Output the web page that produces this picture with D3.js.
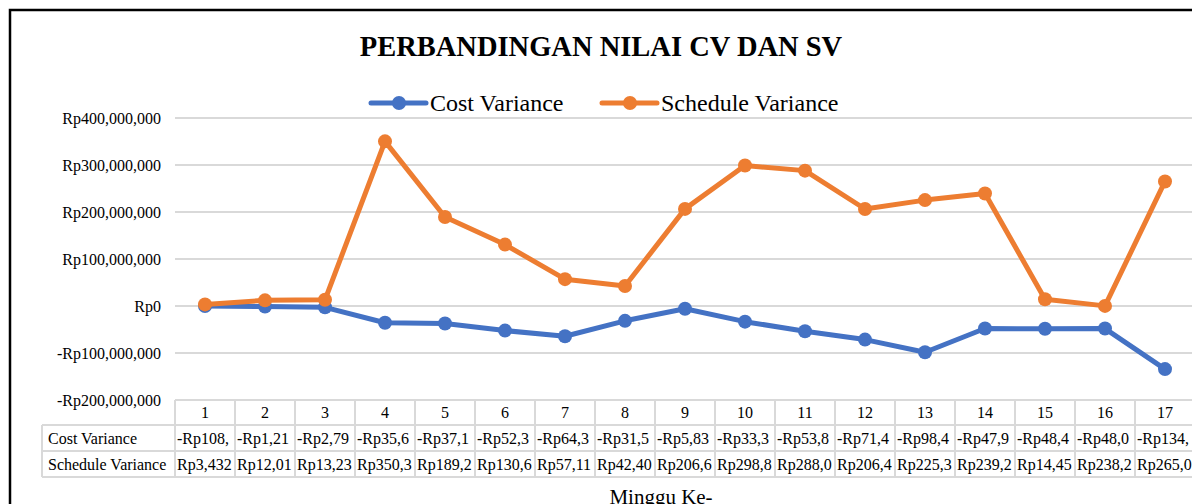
<!DOCTYPE html>
<html>
<head>
<meta charset="utf-8">
<script src="https://cdn.jsdelivr.net/npm/d3@7"></script>
<style>
  html, body { margin: 0; padding: 0; background: #fff; overflow: hidden; }
  svg text { font-family: "Times New Roman", "Liberation Serif", Times, "DejaVu Serif", serif; fill: #000; }
</style>
</head>
<body>
<div id="chart_div"></div>
<script>
// data kategori (minggu) dan nilai tiap seri
const weeks = ["1", "2", "3", "4", "5", "6", "7", "8", "9", "10", "11", "12", "13", "14", "15", "16", "17"]
const costVariance = [-108512, -1213450, -2795300, -35612400, -37145800, -52318900, -64327500, -31542100,
    -5836200, -33318700, -53842600, -71438900, -98415300, -47926400, -48435200, -48012700, -134268400]
const scheduleVariance = [3432150, 12014800, 13235600, 350318400, 189246700, 130652300, 57118900, 42405600,
    206638200, 298847100, 288015600, 206418300, 225316800, 239274500, 14458200, 238245, 265018700]
const yTicks = [-200000000, -100000000, 0, 100000000, 200000000, 300000000, 400000000]
const seriesNames = ["Cost Variance", "Schedule Variance"]
const seriesColors = ["#4472C4", "#ED7D31"]

const width = 1192
const height = 504

const svg = d3.select('#chart_div').append('svg')
    .attr('width', width)
    .attr('height', height)

// skala
const x = d3.scaleBand().domain(weeks).range([175, 1195])
const y = d3.scaleLinear().domain([-200000000, 400000000]).range([400, 118])

const rp = v => (v < 0 ? "-Rp" : "Rp") + d3.format(",")(Math.abs(v))

// garis grid
svg.append('g')
    .selectAll('line')
    .data(yTicks)
    .enter()
    .append('line')
    .attr('x1', 175)
    .attr('x2', width)
    .attr('y1', d => y(d))
    .attr('y2', d => y(d))
    .attr('stroke', '#d9d9d9')
    .attr('stroke-width', 2)

// label sumbu y
svg.append('g')
    .selectAll('text')
    .data(yTicks)
    .enter()
    .append('text')
    .attr('x', 161)
    .attr('y', d => y(d))
    .attr('dy', '0.35em')
    .attr('text-anchor', 'end')
    .style('font-size', '16px')
    .text(d => rp(d))

// tabel data
const table = svg.append('g').attr('class', 'layer--table')
const rowLines = [400, 425, 451, 477]
const gridColor = '#d9d9d9'
table.append('line').attr('x1', 175).attr('x2', width).attr('y1', 400).attr('y2', 400)
    .attr('stroke', gridColor).attr('stroke-width', 2)
rowLines.slice(1).forEach(ry => {
    table.append('line').attr('x1', 42).attr('x2', width).attr('y1', ry).attr('y2', ry)
        .attr('stroke', gridColor).attr('stroke-width', 2)
})
table.append('line').attr('x1', 42).attr('x2', 42).attr('y1', 425).attr('y2', 477)
    .attr('stroke', gridColor).attr('stroke-width', 2)
weeks.forEach(w => {
    table.append('line').attr('x1', x(w)).attr('x2', x(w)).attr('y1', 400).attr('y2', 477)
        .attr('stroke', gridColor).attr('stroke-width', 2)
})

// header minggu
table.selectAll('.hdr')
    .data(weeks)
    .enter()
    .append('text')
    .attr('class', 'hdr')
    .attr('x', d => x(d) + x.bandwidth() / 2)
    .attr('y', 418)
    .attr('text-anchor', 'middle')
    .style('font-size', '16px')
    .text(d => d)

// baris nilai, dipotong seperti Excel kalau tidak muat
const rows = [[costVariance, 444], [scheduleVariance, 470]]
rows.forEach(([vals, ty], ri) => {
    table.append('text')
        .attr('x', 48)
        .attr('y', ty)
        .style('font-size', '16px')
        .text(seriesNames[ri])
    vals.forEach((v, i) => {
        const t = table.append('text')
            .attr('x', x(weeks[i]) + 2)
            .attr('y', ty)
            .style('font-size', '16px')
        let s = rp(v)
        t.text(s)
        while (s.length > 1 && t.node().getComputedTextLength() > x.bandwidth() - 3) {
            s = s.slice(0, -1)
            t.text(s)
        }
    })
})

// garis seri
const line = d3.line()
    .x((d, i) => x(weeks[i]) + x.bandwidth() / 2)
    .y(d => y(d))

const series = [costVariance, scheduleVariance]
series.forEach((vals, si) => {
    const g = svg.append('g')
    g.append('path')
        .datum(vals)
        .attr('d', line)
        .attr('fill', 'none')
        .attr('stroke', seriesColors[si])
        .attr('stroke-width', 5)
        .attr('stroke-linejoin', 'round')
    g.selectAll('circle')
        .data(vals)
        .enter()
        .append('circle')
        .attr('cx', (d, i) => x(weeks[i]) + x.bandwidth() / 2)
        .attr('cy', d => y(d))
        .attr('r', 7)
        .attr('fill', seriesColors[si])
})

// judul
svg.append('text')
    .attr('x', 601)
    .attr('y', 56)
    .attr('text-anchor', 'middle')
    .style('font-size', '28.5px')
    .style('font-weight', 'bold')
    .text('PERBANDINGAN NILAI CV DAN SV')

// legenda
const legendX = [371, 602]
seriesNames.forEach((name, i) => {
    const lg = svg.append('g').attr('transform', `translate(${legendX[i]}, 103)`)
    lg.append('line').attr('x1', 0).attr('x2', 55).attr('y1', 0).attr('y2', 0)
        .attr('stroke', seriesColors[i]).attr('stroke-width', 5).attr('stroke-linecap', 'round')
    lg.append('circle').attr('cx', 28).attr('cy', 0).attr('r', 7).attr('fill', seriesColors[i])
    lg.append('text').attr('x', 59).attr('y', 0).attr('dy', '0.33em')
        .style('font-size', '24px').text(name)
})

// judul sumbu x
svg.append('text')
    .attr('x', 661)
    .attr('y', 504)
    .attr('text-anchor', 'middle')
    .style('font-size', '21px')
    .text('Minggu Ke-')

// bingkai chart
svg.append('path')
    .attr('d', `M10,${height} L10,10 L${width},10`)
    .attr('fill', 'none')
    .attr('stroke', '#000')
    .attr('stroke-width', 2.5)
</script>
</body>
</html>
